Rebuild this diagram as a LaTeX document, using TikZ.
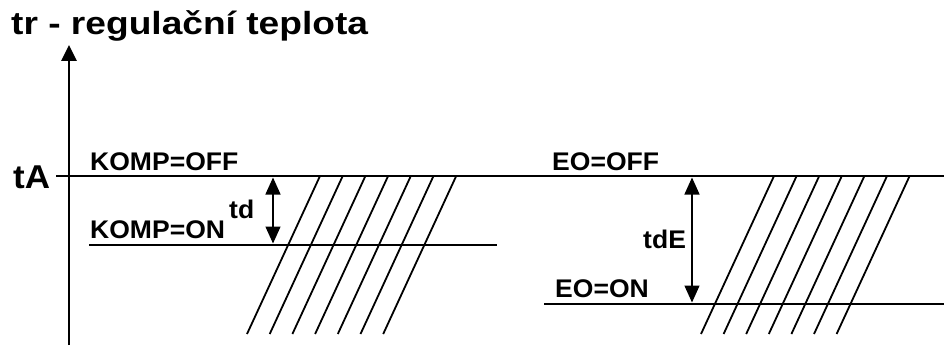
\documentclass[tikz,border=0pt]{standalone}
\usepackage{fontspec}
\setmainfont{Liberation Sans}
\usetikzlibrary{arrows.meta}

\begin{document}
\begin{tikzpicture}[x=1pt,y=-1pt,
  level/.style={line width=2.9pt},
  hatch/.style={line width=1.8pt},
  dim/.style={line width=1.4pt,{Triangle[length=17pt,width=15pt]}-{Triangle[length=17pt,width=15pt]}},
  lbl/.style={font=\fontsize{25.5}{30}\selectfont\bfseries,inner sep=0pt,anchor=base west,xscale=1.04}]
  \useasboundingbox (0,0) rectangle (944,345);

  % Axis
  \coordinate (ybot) at (69,345);
  \coordinate (ytop) at (69,45);
  \draw[level,-{Triangle[length=16pt,width=15pt]}] (ybot) -- (ytop);
  \node[font=\fontsize{32}{38}\selectfont\bfseries,inner sep=0pt,anchor=base west,xscale=1.16] (title) at (11,35) {tr - regulační teplota};
  \node[font=\fontsize{33}{38}\selectfont\bfseries,inner sep=0pt,anchor=base west,xscale=1.06] (ta) at (13,188) {tA};

  % Levels
  \coordinate (off0) at (56,176);
  \coordinate (off1) at (944,176);
  \coordinate (kon0) at (89,245);
  \coordinate (kon1) at (497,245);
  \coordinate (eon0) at (544,304);
  \coordinate (eon1) at (944,304);
  \draw[level] (off0) -- (off1);
  \draw[level] (kon0) -- (kon1);
  \draw[level] (eon0) -- (eon1);

  % Labels
  \node[lbl] (koff) at (90,170) {KOMP=OFF};
  \node[lbl] (kon) at (90,238) {KOMP=ON};
  \node[lbl] (td) at (229,218) {td};
  \node[lbl] (eoff) at (552,170) {EO=OFF};
  \node[lbl] (eon) at (555,297) {EO=ON};
  \node[lbl] (tde) at (643,248) {tdE};

  % Hysteresis arrows
  \coordinate (tdt) at (273,177.5);
  \coordinate (tdb) at (273,243.5);
  \coordinate (tdEt) at (692,177.5);
  \coordinate (tdEb) at (692,302.5);
  \draw[dim] (tdt) -- (tdb);
  \draw[dim] (tdEt) -- (tdEb);

  % Hatching
  \foreach \i in {0,...,6} {
    \draw[hatch] (320+22.7*\i,176) -- (247+22.7*\i,334);
    \draw[hatch] (774+22.6*\i,176) -- (701+22.6*\i,334);
  }
\end{tikzpicture}
\end{document}
